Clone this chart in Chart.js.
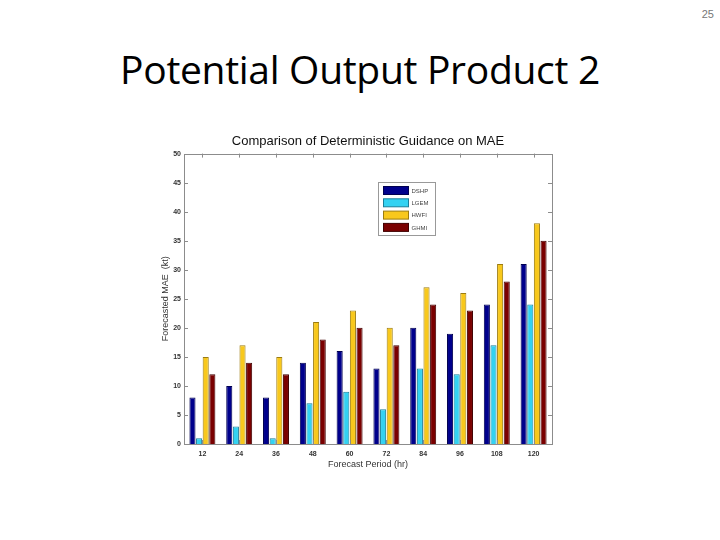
<!DOCTYPE html>
<html>
<head>
<meta charset="utf-8">
<script src="https://cdn.jsdelivr.net/npm/chart.js@4"></script>
<style>
  body { margin: 0; width: 720px; height: 540px; background: #fff; position: relative; overflow: hidden; }
  #pagenum { position: absolute; left: 694px; top: 8px; width: 20px; text-align: right; font: 11px "Liberation Sans", sans-serif; color: #777; }
  #title { position: absolute; left: 0; top: 42px; width: 720px; text-align: center; font: 39px "Open Sans", sans-serif; color: #000; letter-spacing: -0.3px; }
  #wrap { position: absolute; left: 156px; top: 125px; width: 424px; height: 347px; }
</style>
</head>
<body>
<div id="pagenum">25</div>
<div id="title">Potential Output Product 2</div>
<div id="wrap"><canvas id="myChart"></canvas></div>
<script>
// forecast periods (hr)
const periods = ["12", "24", "36", "48", "60", "72", "84", "96", "108", "120"];

// MAE (kt) per model
const dshp = [8, 10, 8, 14, 16, 13, 20, 19, 24, 31];
const lgem = [1, 3, 1, 7, 9, 6, 13, 12, 17, 24];
const hwfi = [15, 17, 15, 21, 23, 20, 27, 26, 31, 38];
const ghmi = [12, 14, 12, 18, 20, 17, 24, 23, 28, 35];

const yTicks = [0, 5, 10, 15, 20, 25, 30, 35, 40, 45, 50];

// matlab style box, inward ticks and legend inside the axes
const matlabBox = {
  id: "matlabBox",
  afterDatasetsDraw(chart) {
    const ctx = chart.ctx;
    const a = chart.chartArea;
    const x = chart.scales.x;
    const y = chart.scales.y;
    ctx.save();
    ctx.strokeStyle = "#8c8c8c";
    ctx.lineWidth = 1;
    ctx.strokeRect(Math.round(a.left) + 0.5, Math.round(a.top) + 0.5, Math.round(a.right - a.left), Math.round(a.bottom - a.top));
    ctx.beginPath();
    yTicks.forEach((v) => {
      const py = Math.round(y.getPixelForValue(v)) + 0.5;
      ctx.moveTo(a.left, py); ctx.lineTo(a.left + 4, py);
      ctx.moveTo(a.right, py); ctx.lineTo(a.right - 4, py);
    });
    periods.forEach((p, i) => {
      const px = Math.round(x.getPixelForValue(i)) + 0.5;
      ctx.moveTo(px, a.top); ctx.lineTo(px, a.top + 4);
      ctx.moveTo(px, a.bottom); ctx.lineTo(px, a.bottom - 4);
    });
    ctx.stroke();

    // legend
    const lx = Math.round(a.left + 194) + 0.5;
    const ly = Math.round(a.top + 28) + 0.5;
    ctx.fillStyle = "#fff";
    ctx.fillRect(lx, ly, 57, 53);
    ctx.strokeStyle = "#999";
    ctx.strokeRect(lx, ly, 57, 53);
    ctx.font = "6px 'Liberation Sans', sans-serif";
    ctx.textBaseline = "middle";
    chart.data.datasets.forEach((ds, i) => {
      const sy = ly + 4 + i * 12.3;
      ctx.fillStyle = ds.backgroundColor;
      ctx.fillRect(lx + 5, sy, 25, 8);
      ctx.strokeStyle = ds.borderColor;
      ctx.strokeRect(lx + 5, sy, 25, 8);
      ctx.fillStyle = "#444";
      ctx.fillText(ds.label, lx + 33, sy + 4.5);
    });
    ctx.restore();
  },
};

const config = {
  type: "bar",
  data: {
    labels: periods,
    datasets: [
      { label: "DSHP", data: dshp, backgroundColor: "#00008c", borderColor: "#000050" },
      { label: "LGEM", data: lgem, backgroundColor: "#33d2f2", borderColor: "#1a7f99" },
      { label: "HWFI", data: hwfi, backgroundColor: "#f8c81c", borderColor: "#9c7c10" },
      { label: "GHMI", data: ghmi, backgroundColor: "#7a0000", borderColor: "#400000" },
    ],
  },
  options: {
    responsive: true,
    maintainAspectRatio: false,
    animation: false,
    datasets: { bar: { categoryPercentage: 0.72, barPercentage: 0.92, borderWidth: 1 } },
    layout: { padding: 0 },
    plugins: {
      legend: { display: false },
      tooltip: { enabled: false },
      title: {
        display: true,
        text: "Comparison of Deterministic Guidance on MAE",
        color: "#111",
        font: { family: "'Liberation Sans', sans-serif", size: 13, weight: "normal" },
        padding: { top: 9, bottom: 4 },
      },
    },
    scales: {
      x: {
        grid: { display: false, drawTicks: false, tickLength: 0 },
        border: { display: false },
        ticks: { color: "#333", padding: 6, font: { family: "'Liberation Sans', sans-serif", size: 7, weight: "bold" } },
        title: {
          display: true,
          text: "Forecast Period (hr)",
          color: "#333",
          padding: { top: 0, bottom: 2 },
          font: { family: "'Liberation Sans', sans-serif", size: 9 },
        },
        afterFit(scale) { scale.height = 28; },
      },
      y: {
        min: 0,
        max: 50,
        grid: { display: false, drawTicks: false, tickLength: 0 },
        border: { display: false },
        ticks: { stepSize: 5, color: "#333", padding: 3, font: { family: "'Liberation Sans', sans-serif", size: 7, weight: "bold" } },
        title: {
          display: true,
          text: "Forecasted MAE  (kt)",
          color: "#333",
          padding: { top: 4, bottom: 0 },
          font: { family: "'Liberation Sans', sans-serif", size: 9 },
        },
        afterFit(scale) { scale.width = 28; },
      },
      // empty right axis so the title centres over the plot box
      y2: {
        position: "right",
        min: 0,
        max: 50,
        grid: { display: false, drawTicks: false },
        border: { display: false },
        ticks: { display: false },
        afterFit(scale) { scale.width = 28; },
      },
    },
  },
  plugins: [matlabBox],
};

const myChart = new Chart(document.getElementById("myChart"), config);
</script>
</body>
</html>
